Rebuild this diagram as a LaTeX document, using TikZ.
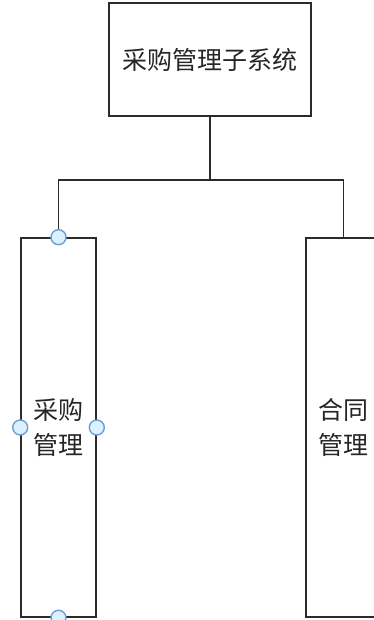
\documentclass[tikz,border=0pt]{standalone}
\usepackage{fontspec}
\newfontfamily\cjk{Noto Sans CJK SC}
\usetikzlibrary{positioning}
\definecolor{linegray}{HTML}{2B2B2B}
\definecolor{textgray}{HTML}{262626}
\definecolor{handblue}{HTML}{6A9FD8}
\definecolor{handfill}{HTML}{DDF0FF}
\tikzset{
  box/.style={draw=linegray,line width=1.6pt,fill=white,align=center,
    text=textgray,font=\cjk\fontsize{25}{35}\selectfont,inner sep=0pt},
  wire/.style={draw=linegray,line width=1.6pt},
  handle/.style={circle,draw=handblue,fill=handfill,line width=1.4pt,
    minimum size=15pt,inner sep=0pt}
}
\begin{document}
\begin{tikzpicture}[x=1pt,y=-1pt]
\useasboundingbox (0,0) rectangle (374,620);
\node[box,minimum width=202pt,minimum height=113pt] (sys) at (210,59.5) {采购管理子系统};
\node[box,minimum width=75pt,minimum height=379pt] (cg) at (58.5,427.5) {采购\\管理};
\node[box,minimum width=75pt,minimum height=379pt] (ht) at (343.5,427.5) {合同\\管理};
\coordinate (bus) at (210,180);
\draw[wire] (sys.south) -- (bus);
\draw[wire] (cg.north) |- (bus) -| (ht.north);
% selection handles on the left box
\node[handle] (hn) at (cg.north) {};
\node[handle] (hw) at (cg.west) {};
\node[handle] (he) at (cg.east) {};
\node[handle] (hs) at (cg.south) {};
\end{tikzpicture}
\end{document}
